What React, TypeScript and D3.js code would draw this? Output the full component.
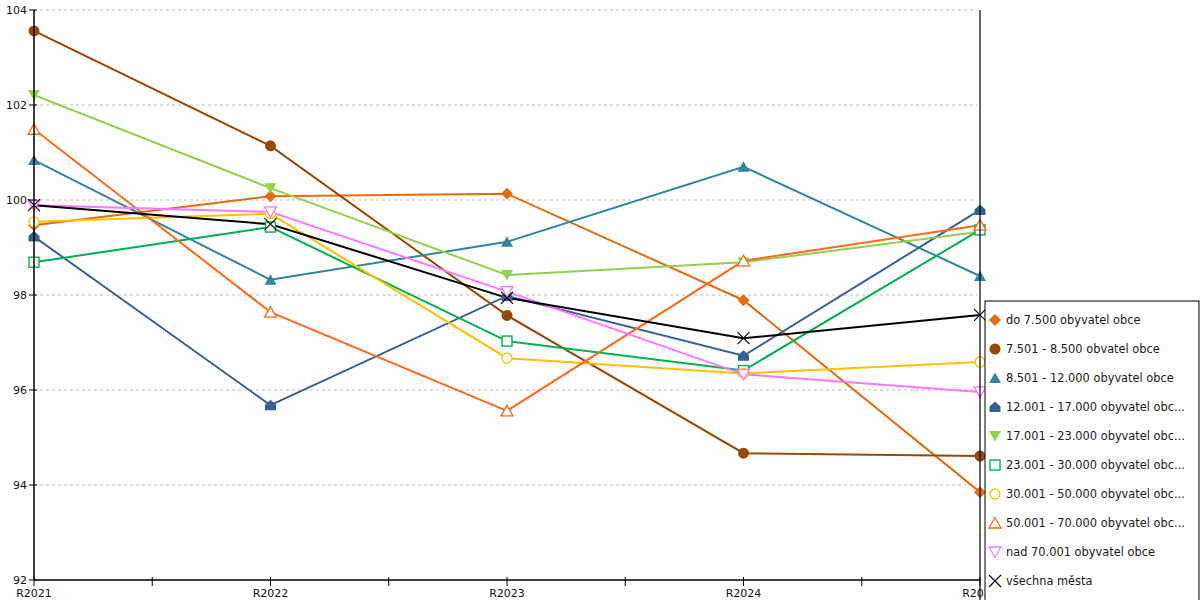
import * as d3 from "d3";

const W = 1200;
const H = 600;

const categories = ["R2021", "R2022", "R2023", "R2024", "R2025"];
const yTicks = [92, 94, 96, 98, 100, 102, 104];

const seriesNames = [
  "do 7.500 obyvatel obce",
  "7.501 - 8.500 obvatel obce",
  "8.501 - 12.000 obyvatel obce",
  "12.001 - 17.000 obyvatel obc...",
  "17.001 - 23.000 obyvatel obc...",
  "23.001 - 30.000 obyvatel obc...",
  "30.001 - 50.000 obyvatel obc...",
  "50.001 - 70.000 obyvatel obc...",
  "nad 70.001 obyvatel obce",
  "všechna města",
];

const do7500 = [99.47, 100.08, 100.13, 97.89, 93.85];
const od7501 = [103.56, 101.14, 97.57, 94.67, 94.61];
const od8501 = [100.84, 98.32, 99.12, 100.7, 98.4];
const od12001 = [99.23, 95.68, 97.98, 96.72, 99.79];
const od17001 = [102.21, 100.25, 98.42, 98.69, 99.33];
const od23001 = [98.69, 99.43, 97.03, 96.41, 99.37];
const od30001 = [99.54, 99.71, 96.67, 96.35, 96.59];
const od50001 = [101.49, 97.64, 95.56, 98.72, 99.47];
const nad70001 = [99.89, 99.75, 98.07, 96.33, 95.96];
const vsechna = [99.89, 99.49, 97.94, 97.09, 97.58];

const seriesValues = [do7500, od7501, od8501, od12001, od17001, od23001, od30001, od50001, nad70001, vsechna];

const colors = ["#E46C0A", "#984807", "#31859C", "#376092", "#92D050", "#00B050", "#FFC000", "#FF6A1A", "#FF77FF", "#000000"];

type Shape = "diamond" | "circle" | "tri" | "house" | "triDown" | "square" | "oCircle" | "oTri" | "oTriDown" | "x";
const shapes: Shape[] = ["diamond", "circle", "tri", "house", "triDown", "square", "oCircle", "oTri", "oTriDown", "x"];

const font = "'DejaVu Sans', Tahoma, sans-serif";

const Marker = ({ shape, x, y, color }: { shape: Shape; x: number; y: number; color: string }) => {
  const t = `translate(${x},${y})`;
  switch (shape) {
    case "diamond":
      return <path transform={t} d="M0,-6L6,0L0,6L-6,0Z" fill={color} />;
    case "circle":
      return <circle cx={x} cy={y} r={5.5} fill={color} />;
    case "tri":
      return <path transform={t} d="M0,-5.5L6,5L-6,5Z" fill={color} />;
    case "house":
      return <path transform={t} d="M0,-5.5L5.5,-0.5L5.5,5L-5.5,5L-5.5,-0.5Z" fill={color} />;
    case "triDown":
      return <path transform={t} d="M0,5.5L6,-5L-6,-5Z" fill={color} />;
    case "square":
      return <rect x={x - 5} y={y - 5} width={10} height={10} fill="white" stroke={color} strokeWidth={1.4} />;
    case "oCircle":
      return <circle cx={x} cy={y} r={5} fill="white" stroke={color} strokeWidth={1.3} />;
    case "oTri":
      return <path transform={t} d="M0,-5.5L6,5L-6,5Z" fill="white" stroke={color} strokeWidth={1.3} />;
    case "oTriDown":
      return <path transform={t} d="M0,5.5L6,-5L-6,-5Z" fill="white" stroke={color} strokeWidth={1.3} />;
    case "x":
      return <path transform={t} d="M-6,-6L6,6M6,-6L-6,6" stroke={color} strokeWidth={1.1} fill="none" />;
  }
};

export default function App() {
  const x = d3.scalePoint<string>().domain(categories).range([34, 980]);
  const y = d3.scaleLinear().domain([92, 104]).range([580, 10]);
  const step = x.step();
  const minorTicks = categories.slice(0, -1).map((c) => (x(c) ?? 0) + step / 2);

  const line = d3
    .line<number>()
    .x((_, i) => x(categories[i]) ?? 0)
    .y((d) => y(d));

  const legendX = 985;
  const legendY = 301;
  const legendRow = 29;

  return (
    <div style={{ position: "fixed", left: 0, top: 0 }}>
      <svg width={W} height={H} style={{ display: "block", background: "white" }}>
        {/* grid */}
        {yTicks.slice(1).map((t) => (
          <line key={t} x1={34} x2={977} y1={y(t)} y2={y(t)} stroke="#BFBFBF" strokeDasharray="3,3" strokeWidth={1} />
        ))}

        {/* series lines */}
        {seriesValues.map((vals, i) => (
          <path key={i} d={line(vals) ?? ""} fill="none" stroke={colors[i]} strokeWidth={2} />
        ))}

        {/* markers */}
        {seriesValues.map((vals, i) => (
          <g key={i}>
            {vals.map((v, j) => (
              <Marker key={j} shape={shapes[i]} x={x(categories[j]) ?? 0} y={y(v)} color={colors[i]} />
            ))}
          </g>
        ))}

        {/* axes */}
        <line x1={34} x2={34} y1={10} y2={580} stroke="black" strokeWidth={1.5} />
        <line x1={34} x2={980} y1={580} y2={580} stroke="black" strokeWidth={1.5} />
        <line x1={980} x2={980} y1={10} y2={600} stroke="black" strokeWidth={1.2} />
        {yTicks.map((t) => (
          <g key={t}>
            <line x1={29} x2={37} y1={y(t)} y2={y(t)} stroke="black" strokeWidth={1} />
            <text x={27} y={y(t)} dy="0.35em" textAnchor="end" fontFamily={font} fontSize={11} fill="#111">
              {t}
            </text>
          </g>
        ))}
        {categories.map((c) => (
          <g key={c}>
            <line x1={x(c)} x2={x(c)} y1={577} y2={586} stroke="black" strokeWidth={1} />
            <text x={x(c)} y={597} textAnchor="middle" fontFamily={font} fontSize={11} fill="#111">
              {c}
            </text>
          </g>
        ))}
        {minorTicks.map((m, i) => (
          <line key={i} x1={m} x2={m} y1={577} y2={586} stroke="black" strokeWidth={1} />
        ))}

        {/* legend */}
        <rect x={legendX} y={legendY} width={W - legendX - 1} height={H - legendY + 5} fill="white" stroke="black" strokeWidth={1} />
        {seriesNames.map((name, i) => {
          const cy = legendY + 19 + i * legendRow;
          return (
            <g key={name}>
              <Marker shape={shapes[i]} x={legendX + 10} y={cy} color={colors[i]} />
              <text x={legendX + 21} y={cy} dy="0.35em" fontFamily={font} fontSize={11.4} fill="#1a1a1a">
                {name}
              </text>
            </g>
          );
        })}
      </svg>
    </div>
  );
}
